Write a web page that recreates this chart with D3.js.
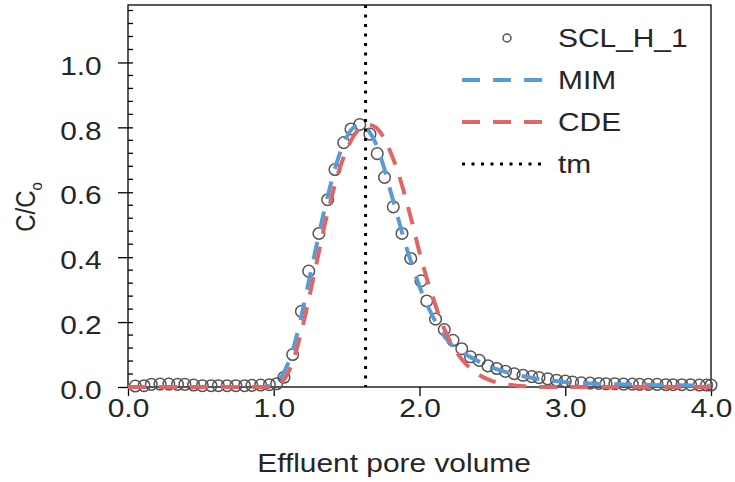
<!DOCTYPE html>
<meta charset="utf-8">
<title>SCL_H_1 breakthrough</title>
<style>
  body { margin: 0; background: #fff; }
  svg text { font-family: "Liberation Sans", Arial, sans-serif; fill: #262626; }
  .frame { fill: none; stroke: #000; stroke-width: 1.3px; }
  .axis path, .axis line { stroke: #000; stroke-width: 1.3px; }
  .obs { fill: none; stroke: #555; stroke-width: 1.5px; }
  .fit { fill: none; stroke-width: 4px; stroke-dasharray: 18 13; }
  .tm { fill: none; stroke: #000; stroke-width: 3px; stroke-dasharray: 3 6.5; }
</style>
<body>
<svg id="chart"></svg>
<script src="https://cdnjs.cloudflare.com/ajax/libs/d3/7.8.5/d3.min.js"></script>
<script>
// observed effluent data (SCL_H_1)
const obsX = [0.05,0.11,0.16,0.22,0.28,0.34,0.39,0.45,0.51,0.57,0.62,0.68,0.74,0.80,0.85,0.91,0.97,1.02,1.07,1.13,
  1.19,1.24,1.31,1.37,1.42,1.48,1.53,1.59,1.66,1.71,1.76,1.82,1.88,1.94,2.01,2.05,2.11,2.17,2.23,2.29,
  2.35,2.41,2.47,2.53,2.59,2.65,2.71,2.77,2.82,2.88,2.94,3.00,3.05,3.11,3.17,3.23,3.28,3.34,3.40,3.46,
  3.51,3.57,3.63,3.69,3.74,3.80,3.86,3.92,3.97,4.00];
const obsY = [0.003,0.004,0.008,0.009,0.009,0.008,0.008,0.006,0.004,0.004,0.004,0.004,0.004,0.004,0.005,0.006,0.007,0.010,0.030,0.100,
  0.233,0.357,0.473,0.577,0.670,0.753,0.795,0.809,0.779,0.719,0.646,0.555,0.473,0.396,0.327,0.265,0.209,0.177,0.144,0.118,
  0.093,0.082,0.065,0.057,0.048,0.041,0.036,0.032,0.029,0.025,0.021,0.018,0.015,0.013,0.012,0.011,0.010,0.010,0.009,0.009,
  0.008,0.008,0.008,0.007,0.007,0.007,0.007,0.006,0.006,0.006];

// fitted curves
const mimX = [0,0.9,0.95,1.0,1.05,1.1,1.15,1.2,1.25,1.3,1.35,1.4,1.45,1.5,1.55,1.6,1.65,1.7,1.75,1.8,
  1.85,1.9,1.95,2.0,2.05,2.1,2.15,2.2,2.3,2.4,2.5,2.6,2.7,2.8,2.9,3.0,3.2,3.5,4.0];
const mimY = [0,0,0.002,0.008,0.03,0.075,0.145,0.24,0.345,0.45,0.55,0.64,0.715,0.77,0.80,0.807,0.79,0.75,0.685,0.605,
  0.525,0.445,0.375,0.31,0.255,0.21,0.17,0.14,0.105,0.08,0.06,0.045,0.034,0.026,0.02,0.015,0.01,0.007,0.004];
const cdeX = [0,1.0,1.05,1.1,1.15,1.2,1.25,1.3,1.35,1.4,1.45,1.5,1.55,1.6,1.65,1.7,1.75,1.8,1.85,1.9,
  1.95,2.0,2.05,2.1,2.15,2.2,2.25,2.3,2.4,2.5,2.6,2.7,2.8,4.0];
const cdeY = [0,0,0.012,0.045,0.105,0.19,0.29,0.395,0.5,0.59,0.67,0.73,0.775,0.80,0.808,0.8,0.772,0.725,0.665,0.59,
  0.505,0.415,0.335,0.265,0.2,0.15,0.11,0.08,0.04,0.018,0.008,0.003,0,0];

const tm = 1.63;

const xTicks = [0, 1, 2, 3, 4];
const yTicks = [0, 0.2, 0.4, 0.6, 0.8, 1.0];
const yMinorTicks = d3.range(0, 1.17, 0.04).filter(v => Math.abs(v / 0.2 - Math.round(v / 0.2)) > 0.01);
const legendLabels = ["SCL_H_1", "MIM", "CDE", "tm"];
const xTitle = "Effluent pore volume";

const W = 735, H = 482;
const SX = 1.15; // the reference text is stretched horizontally
const blue = "#5b9bd5", red = "#e06666";

const svg = d3.select("#chart").attr("width", W).attr("height", H);

const x = d3.scaleLinear().domain([0, 4]).range([128, 711]);
const y = d3.scaleLinear().domain([0, 1.177]).range([387, 5]);

// frame
svg.append("rect").attr("class", "frame")
  .attr("x", x(0)).attr("y", y.range()[1])
  .attr("width", x(4) - x(0)).attr("height", y(0) - y.range()[1]);

// x axis
const gx = svg.append("g").attr("class", "axis")
  .attr("transform", `translate(0,${y(0)})`)
  .call(d3.axisBottom(x).tickValues(xTicks).tickFormat(d3.format(".1f")).tickSizeOuter(0).tickSize(9).tickPadding(2));
gx.select(".domain").remove();
gx.selectAll("text").style("font-size", "26px").attr("fill", "#262626")
  .attr("transform", `scale(${SX},1)`).attr("y", 11.5);

// y axis
const gy = svg.append("g").attr("class", "axis")
  .attr("transform", `translate(${x(0)},0)`)
  .call(d3.axisLeft(y).tickValues(yTicks).tickFormat(d3.format(".1f")).tickSizeOuter(0));
gy.select(".domain").remove();
gy.selectAll("line").attr("x1", 5).attr("x2", -10);
gy.selectAll("text").style("font-size", "26px").attr("fill", "#262626")
  .attr("x", -26.3 / SX).attr("dy", "0.45em").attr("transform", `scale(${SX},1)`);

svg.append("g").selectAll("line").data(yMinorTicks).join("line")
  .attr("x1", x(0)).attr("x2", x(0) + 5)
  .attr("y1", d => y(d)).attr("y2", d => y(d))
  .attr("stroke", "#000").attr("stroke-width", 1.3);

// axis titles
svg.append("text")
  .attr("transform", `translate(394,472) scale(${SX},1)`)
  .attr("text-anchor", "middle").style("font-size", "26px").text(xTitle);

const yl = svg.append("text")
  .attr("transform", `translate(35,207) scale(${SX},1) rotate(-90)`)
  .attr("text-anchor", "middle").style("font-size", "24px");
yl.append("tspan").text("C/C");
yl.append("tspan").attr("dy", 6).style("font-size", "15px").text("o");

// observed points
svg.append("g").selectAll("circle").data(obsX).join("circle")
  .attr("class", "obs")
  .attr("cx", d => x(d)).attr("cy", (d, i) => y(obsY[i])).attr("r", 5.8);

// fitted lines
const line = d3.line().x(d => x(d[0])).y(d => y(d[1])).curve(d3.curveMonotoneX);
svg.append("path").attr("class", "fit").attr("stroke", blue)
  .attr("d", line(mimX.map((v, i) => [v, mimY[i]])));
svg.append("path").attr("class", "fit").attr("stroke", red)
  .attr("d", line(cdeX.map((v, i) => [v, cdeY[i]])));

// tm marker
svg.append("line").attr("class", "tm")
  .attr("x1", x(tm)).attr("x2", x(tm)).attr("y1", y.range()[1]).attr("y2", y(0));

// legend
const legend = svg.append("g");
const rowY = [38, 80, 122, 164];
legend.append("circle").attr("class", "obs").attr("cx", 507).attr("cy", rowY[0]).attr("r", 4);
legend.append("line").attr("class", "fit").attr("stroke", blue)
  .attr("x1", 462).attr("x2", 547).attr("y1", rowY[1]).attr("y2", rowY[1]);
legend.append("line").attr("class", "fit").attr("stroke", red)
  .attr("x1", 462).attr("x2", 547).attr("y1", rowY[2]).attr("y2", rowY[2]);
legend.append("line").attr("class", "tm")
  .attr("x1", 462).attr("x2", 542).attr("y1", rowY[3]).attr("y2", rowY[3]);
legend.selectAll("text").data(legendLabels).join("text")
  .attr("transform", (d, i) => `translate(558,${rowY[i] + 9}) scale(${SX},1)`)
  .style("font-size", "26px").text(d => d);
</script>
</body>
